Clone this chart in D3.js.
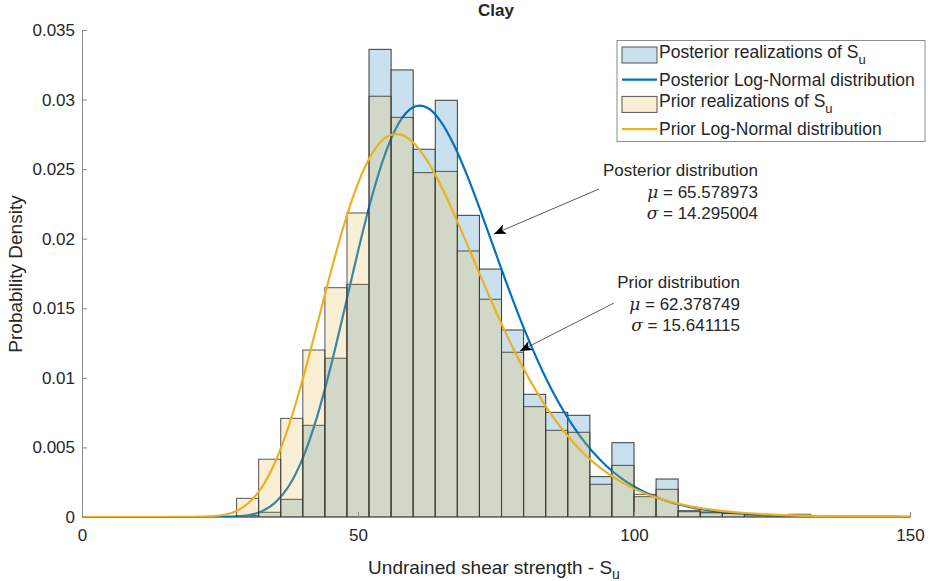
<!DOCTYPE html>
<html>
  <head>
    <meta charset="utf-8">
    <title>Clay - prior / posterior histogram</title>
    <script src="https://d3js.org/d3.v7.min.js"></script>
    <style>
      body { margin: 0; background: #fff; }
      text { font-family: "Liberation Sans", Arial, Helvetica, sans-serif; fill: #262626; }
    </style>
  </head>
  <body>
  <svg id="chart" width="932" height="581"></svg>
  <script>
    // bin edges (width 4) and densities
    var binEdges = [28, 32, 36, 40, 44, 48, 52, 56, 60, 64, 68, 72, 76, 80, 84, 88,
                    92, 96, 100, 104, 108, 112, 116, 120, 124, 128, 132, 136, 140, 144, 148];
    var posteriorHist = [0.0001, 0.00034, 0.00127, 0.00659, 0.01141, 0.01672, 0.03361, 0.03213,
                         0.02643, 0.02995, 0.02168, 0.01782, 0.01344, 0.00882, 0.00752, 0.00731,
                         0.0029, 0.00534, 0.00146, 0.00273, 0.00045, 0.00036, 0.0003, 0.00017,
                         0.00012, 0.00008, 0.00003, 0, 0.00005, 0.00005];
    var priorHist = [0.00134, 0.00415, 0.00709, 0.0120, 0.01648, 0.02185, 0.03024, 0.02872,
                     0.02475, 0.02484, 0.01912, 0.01565, 0.01184, 0.00793, 0.00623, 0.00609,
                     0.00235, 0.00371, 0.00163, 0.00199, 0.00038, 0.0003, 0.00025, 0.00015,
                     0.0001, 0.0002, 0.00005, 0.00003, 0, 0];

    var posteriorX = [0, 10, 20, 25, 30, 32.5, 35, 37.5, 40, 42.5, 45, 47.5, 50, 52.5, 55, 57.5,
                      60, 61.2, 62.5, 65, 67.5, 70, 72.5, 75, 77.5, 80, 85, 90, 95, 100, 105, 110,
                      115, 120, 125, 130, 135, 140, 145, 150];
    var posteriorPdf = [0, 0, 0.00000004, 0.0000053, 0.000125, 0.000398, 0.00103, 0.002244,
                        0.004236, 0.00709, 0.010717, 0.014849, 0.019087, 0.022995, 0.026184,
                        0.02838, 0.029456, 0.02957, 0.029427, 0.028422, 0.026641, 0.024314, 0.021668,
                        0.018903, 0.016181, 0.013614, 0.009217, 0.005934, 0.003667, 0.002192,
                        0.001275, 0.000724, 0.000404, 0.000222, 0.000121, 0.000065, 0.000035,
                        0.000019, 0.00001, 0.000005];
    var priorX = [0, 10, 20, 25, 30, 32.5, 35, 37.5, 40, 42.5, 45, 47.5, 50, 52.5, 55, 56.9,
                  57.5, 60, 62.5, 65, 67.5, 70, 72.5, 75, 77.5, 80, 85, 90, 95, 100, 105, 110,
                  115, 120, 125, 130, 135, 140, 145, 150];
    var priorPdf = [0, 0, 0.0000035, 0.000107, 0.000952, 0.002093, 0.003955, 0.006595,
                    0.009915, 0.013664, 0.017495, 0.021041, 0.023979, 0.026088, 0.027261,
                    0.02752, 0.027505, 0.026911, 0.025627, 0.023831, 0.021698, 0.01939, 0.017041,
                    0.014758, 0.012613, 0.010652, 0.007369, 0.004927, 0.003205, 0.002039,
                    0.001274, 0.000784, 0.000477, 0.000288, 0.000172, 0.000103, 0.000061,
                    0.000036, 0.000021, 0.000012];

    var xTicks = [0, 50, 100, 150];
    var yTicks = [0, 0.005, 0.01, 0.015, 0.02, 0.025, 0.03, 0.035];
    var yTickLabels = ["0", "0.005", "0.01", "0.015", "0.02", "0.025", "0.03", "0.035"];

    var posteriorStats = ["65.578973", "14.295004"];
    var priorStats = ["62.378749", "15.641115"];

    // plot box (note: "top" is a reserved window global, so use other names)
    var plotLeft = 82, plotRight = 910, plotTop = 30, plotBottom = 517;

    var svg = d3.select("#chart");

    var x = d3.scaleLinear().domain([0, 150]).range([plotLeft, plotRight]);
    var y = d3.scaleLinear().domain([0, 0.035]).range([plotBottom, plotTop]);

    var bins = posteriorHist.map(function(d, i) {
      return { x0: binEdges[i], x1: binEdges[i + 1], post: d, prior: priorHist[i] };
    });

    // posterior histogram (opaque light blue)
    svg.append("g").selectAll("rect")
      .data(bins.filter(function(d) { return d.post > 0; }))
      .enter().append("rect")
      .attr("x", function(d) { return x(d.x0); })
      .attr("width", function(d) { return x(d.x1) - x(d.x0); })
      .attr("y", function(d) { return y(d.post); })
      .attr("height", function(d) { return y(0) - y(d.post); })
      .attr("fill", "#c9e0ee")
      .attr("stroke", "#3a3a3a")
      .attr("stroke-width", 1);

    function curve(xs, ys) {
      return d3.line()
        .x(function(d, i) { return x(xs[i]); })
        .y(function(d) { return y(d); })
        .curve(d3.curveMonotoneX)(ys);
    }

    // posterior curve sits under the prior histogram
    svg.append("path")
      .attr("d", curve(posteriorX, posteriorPdf))
      .attr("fill", "none")
      .attr("stroke", "#0072bd")
      .attr("stroke-width", 2.2);

    // prior histogram, semi-transparent on top
    svg.append("g").selectAll("rect")
      .data(bins.filter(function(d) { return d.prior > 0; }))
      .enter().append("rect")
      .attr("x", function(d) { return x(d.x0); })
      .attr("width", function(d) { return x(d.x1) - x(d.x0); })
      .attr("y", function(d) { return y(d.prior); })
      .attr("height", function(d) { return y(0) - y(d.prior); })
      .attr("fill", "rgb(232,193,90)")
      .attr("fill-opacity", 0.26)
      .attr("stroke", "#3a3a3a")
      .attr("stroke-opacity", 0.85)
      .attr("stroke-width", 1);

    svg.append("path")
      .attr("d", curve(priorX, priorPdf))
      .attr("fill", "none")
      .attr("stroke", "#edb120")
      .attr("stroke-width", 2.2);

    // axes, ticks pointing inward like matlab
    var xAxis = d3.axisBottom(x).tickValues(xTicks).tickSizeInner(-5).tickSizeOuter(0).tickPadding(12);
    var yAxis = d3.axisLeft(y).tickValues(yTicks)
      .tickFormat(function(d, i) { return yTickLabels[i]; })
      .tickSizeInner(-5).tickSizeOuter(0).tickPadding(7);

    var gx = svg.append("g").attr("transform", "translate(0," + plotBottom + ")").call(xAxis);
    var gy = svg.append("g").attr("transform", "translate(" + plotLeft + ",0)").call(yAxis);
    [gx, gy].forEach(function(g) {
      g.select(".domain").attr("stroke", "#8a8a8a");
      g.selectAll(".tick line").attr("stroke", "#8a8a8a");
      g.selectAll(".tick text")
        .attr("fill", "#262626")
        .style("font-size", "17px")
        .style("font-family", "'Liberation Sans', Arial, sans-serif");
    });

    // title and axis labels
    svg.append("text")
      .attr("x", 496).attr("y", 16)
      .attr("text-anchor", "middle")
      .style("font-size", "17px").style("font-weight", "bold")
      .attr("fill", "#000")
      .text("Clay");

    var xl = svg.append("text")
      .attr("x", 494).attr("y", 574)
      .attr("text-anchor", "middle")
      .style("font-size", "19px");
    xl.append("tspan").text("Undrained shear strength - S");
    xl.append("tspan").attr("dy", 5).style("font-size", "14px").text("u");

    svg.append("text")
      .attr("transform", "translate(22,274) rotate(-90)")
      .attr("text-anchor", "middle")
      .style("font-size", "19px")
      .text("Probability Density");

    // annotations
    var defs = svg.append("defs");
    defs.append("marker")
      .attr("id", "arrow")
      .attr("viewBox", "0 0 12 10")
      .attr("refX", 12).attr("refY", 5)
      .attr("markerWidth", 12).attr("markerHeight", 10)
      .attr("markerUnits", "userSpaceOnUse")
      .attr("orient", "auto")
      .append("path")
      .attr("d", "M0,0 L12,5 L0,10 L3,5 Z")
      .attr("fill", "#000");

    function note(xr, y0, title, stats, from, to) {
      var g = svg.append("g").style("font-size", "17px");
      g.append("text").attr("x", xr).attr("y", y0).attr("text-anchor", "end").text(title);
      var m = g.append("text").attr("x", xr).attr("y", y0 + 21.5).attr("text-anchor", "end");
      m.append("tspan").style("font-style", "italic").style("font-family", "'DejaVu Serif', serif").text("\u03bc");
      m.append("tspan").text(" = " + stats[0]);
      var s = g.append("text").attr("x", xr).attr("y", y0 + 43).attr("text-anchor", "end");
      s.append("tspan").style("font-style", "italic").style("font-family", "'DejaVu Serif', serif").text("\u03c3");
      s.append("tspan").text(" = " + stats[1]);
      svg.append("line")
        .attr("x1", from[0]).attr("y1", from[1])
        .attr("x2", to[0]).attr("y2", to[1])
        .attr("stroke", "#333").attr("stroke-width", 0.8)
        .attr("marker-end", "url(#arrow)");
    }
    note(758, 176, "Posterior distribution", posteriorStats, [599, 189], [494, 234]);
    note(740, 288, "Prior distribution", priorStats, [614, 303], [520, 351]);

    // legend
    var lg = svg.append("g");
    lg.append("rect")
      .attr("x", 617).attr("y", 40.5).attr("width", 308).attr("height", 101)
      .attr("fill", "#fff").attr("stroke", "#8a8a8a");
    var rows = [
      { type: "patch", fill: "#c9e0ee", label: "Posterior realizations of S", sub: "u" },
      { type: "line", color: "#0072bd", label: "Posterior Log-Normal distribution" },
      { type: "patch", fill: "#f9efd4", label: "Prior realizations of S", sub: "u" },
      { type: "line", color: "#edb120", label: "Prior Log-Normal distribution" }
    ];
    rows.forEach(function(r, i) {
      var cy = 55 + i * 24.7;
      if (r.type === "patch") {
        lg.append("rect").attr("x", 622).attr("y", cy - 8).attr("width", 35).attr("height", 16)
          .attr("fill", r.fill).attr("stroke", "#555");
      } else {
        lg.append("line").attr("x1", 622).attr("x2", 657).attr("y1", cy).attr("y2", cy)
          .attr("stroke", r.color).attr("stroke-width", 2.2);
      }
      var t = lg.append("text").attr("x", 659).attr("y", cy + (r.sub ? 3 : 6)).style("font-size", "17.5px");
      t.append("tspan").text(r.label);
      if (r.sub) t.append("tspan").attr("dy", 6).style("font-size", "13px").text(r.sub);
    });
  </script>
  </body>
</html>
